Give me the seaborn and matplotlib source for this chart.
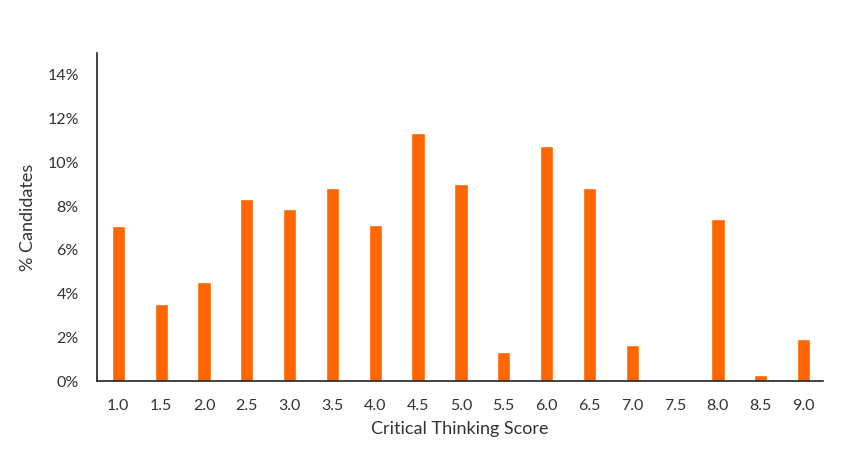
import matplotlib
matplotlib.use("Agg")
import matplotlib.pyplot as plt
import seaborn as sns
import pandas as pd
from matplotlib.ticker import PercentFormatter

scores = ["1.0", "1.5", "2.0", "2.5", "3.0", "3.5", "4.0", "4.5", "5.0",
          "5.5", "6.0", "6.5", "7.0", "7.5", "8.0", "8.5", "9.0"]
pct = [7.07, 3.51, 4.51, 8.34, 7.89, 8.85, 7.16, 11.35, 9.03,
       1.33, 10.77, 8.85, 1.64, 0.0, 7.39, 0.28, 1.93]

df = pd.DataFrame({"score": scores, "pct": pct})

sns.set_style("white")
plt.rcParams['font.family'] = ['Lato', 'DejaVu Sans']

fig = plt.figure(figsize=(8.5, 4.58), dpi=100)
ax = fig.add_axes([0.114, 0.168, 0.854, 0.716])
sns.barplot(data=df, x="score", y="pct", color="#FF6600", saturation=1,
            width=0.31, ax=ax)

ax.set_ylim(0, 15)
ax.set_xlim(-0.5, 16.45)
ax.set_yticks(range(0, 15, 2))
ax.yaxis.set_major_formatter(PercentFormatter(decimals=0))
ax.tick_params(axis="both", length=0, labelsize=11.5, colors="#333333")
ax.tick_params(axis="x", pad=13)
ax.tick_params(axis="y", pad=13)
ax.set_xlabel("Critical Thinking Score", fontsize=13, color="#333333", labelpad=6)
ax.set_ylabel("% Candidates", fontsize=13, color="#333333", labelpad=8)

for side in ["top", "right"]:
    ax.spines[side].set_visible(False)
for side in ["left", "bottom"]:
    ax.spines[side].set_color("#222222")
    ax.spines[side].set_linewidth(1.2)

fig.savefig("out.png", dpi=100, facecolor="white")
